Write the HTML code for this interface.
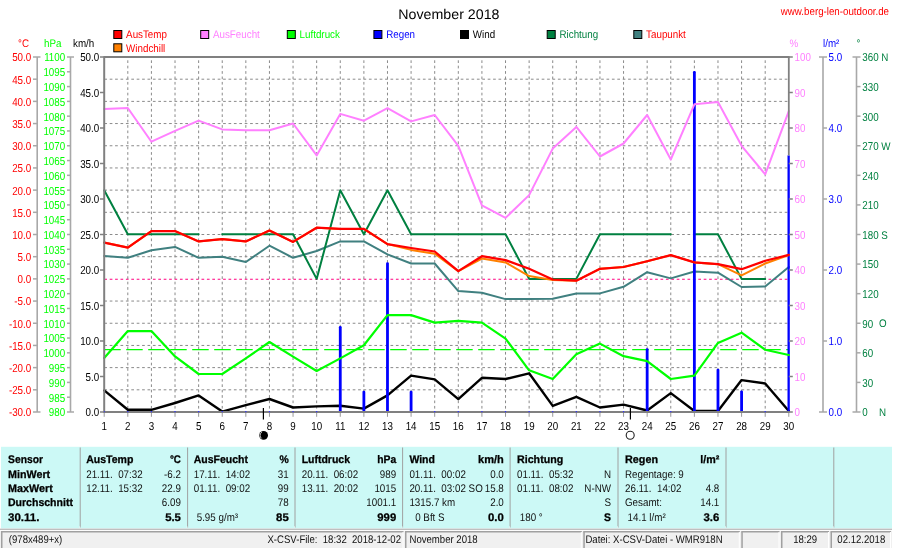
<!DOCTYPE html>
<html><head><meta charset="utf-8"><title>November 2018</title>
<style>
html,body{margin:0;padding:0;background:#fff;}
body{width:900px;height:548px;overflow:hidden;}
svg{display:block;}
text{font-family:'Liberation Sans',Arial,sans-serif;text-rendering:geometricPrecision;}
</style></head><body>
<svg width="900" height="548" viewBox="0 0 900 548">
<rect x="0" y="0" width="900" height="548" fill="#ffffff"/>
<text transform="translate(448.90,19.00) scale(0.25375,0.25)" font-size="56.00" fill="#000" text-anchor="middle">November 2018</text>
<text transform="translate(780.80,14.80) scale(0.22125,0.25)" font-size="44.00" fill="#ff0000">www.berg-len-outdoor.de</text>
<rect x="113.80" y="30.50" width="8" height="8" fill="#ff0000" stroke="#000" stroke-width="1"/>
<text transform="translate(126.10,38.40) scale(0.22250,0.25)" font-size="44.00" fill="#ff0000">AusTemp</text>
<rect x="113.80" y="43.80" width="8" height="8" fill="#ff8000" stroke="#000" stroke-width="1"/>
<text transform="translate(126.10,51.70) scale(0.22250,0.25)" font-size="44.00" fill="#ff0000">Windchill</text>
<rect x="200.70" y="30.50" width="8" height="8" fill="#ff80ff" stroke="#000" stroke-width="1"/>
<text transform="translate(213.00,38.40) scale(0.22250,0.25)" font-size="44.00" fill="#ff80ff">AusFeucht</text>
<rect x="287.30" y="30.50" width="8" height="8" fill="#00ff00" stroke="#000" stroke-width="1"/>
<text transform="translate(299.60,38.40) scale(0.22250,0.25)" font-size="44.00" fill="#00ff00">Luftdruck</text>
<rect x="373.90" y="30.50" width="8" height="8" fill="#0000ff" stroke="#000" stroke-width="1"/>
<text transform="translate(386.20,38.40) scale(0.22250,0.25)" font-size="44.00" fill="#0000ff">Regen</text>
<rect x="460.50" y="30.50" width="8" height="8" fill="#000" stroke="#000" stroke-width="1"/>
<text transform="translate(472.80,38.40) scale(0.22250,0.25)" font-size="44.00" fill="#000">Wind</text>
<rect x="547.20" y="30.50" width="8" height="8" fill="#008040" stroke="#000" stroke-width="1"/>
<text transform="translate(559.50,38.40) scale(0.22250,0.25)" font-size="44.00" fill="#008040">Richtung</text>
<rect x="633.80" y="30.50" width="8" height="8" fill="#408080" stroke="#000" stroke-width="1"/>
<text transform="translate(646.10,38.40) scale(0.22250,0.25)" font-size="44.00" fill="#ff0000">Taupunkt</text>
<text transform="translate(18.00,46.50) scale(0.22250,0.25)" font-size="44.00" fill="#ff0000">°C</text>
<text transform="translate(44.00,46.50) scale(0.22250,0.25)" font-size="44.00" fill="#00ff00">hPa</text>
<text transform="translate(73.00,46.50) scale(0.22250,0.25)" font-size="44.00" fill="#000">km/h</text>
<text transform="translate(789.50,46.50) scale(0.22250,0.25)" font-size="44.00" fill="#ff80ff">%</text>
<text transform="translate(823.00,46.50) scale(0.22250,0.25)" font-size="44.00" fill="#0000ff">l/m²</text>
<text transform="translate(856.50,46.50) scale(0.22250,0.25)" font-size="44.00" fill="#008040">°</text>
<line x1="104.30" y1="79.19" x2="788.80" y2="79.19" stroke="#8a8a8a" stroke-width="1" stroke-dasharray="2.7 2.7"/>
<line x1="104.30" y1="101.38" x2="788.80" y2="101.38" stroke="#8a8a8a" stroke-width="1" stroke-dasharray="2.7 2.7"/>
<line x1="104.30" y1="123.56" x2="788.80" y2="123.56" stroke="#8a8a8a" stroke-width="1" stroke-dasharray="2.7 2.7"/>
<line x1="104.30" y1="145.75" x2="788.80" y2="145.75" stroke="#8a8a8a" stroke-width="1" stroke-dasharray="2.7 2.7"/>
<line x1="104.30" y1="167.94" x2="788.80" y2="167.94" stroke="#8a8a8a" stroke-width="1" stroke-dasharray="2.7 2.7"/>
<line x1="104.30" y1="190.12" x2="788.80" y2="190.12" stroke="#8a8a8a" stroke-width="1" stroke-dasharray="2.7 2.7"/>
<line x1="104.30" y1="212.31" x2="788.80" y2="212.31" stroke="#8a8a8a" stroke-width="1" stroke-dasharray="2.7 2.7"/>
<line x1="104.30" y1="234.50" x2="788.80" y2="234.50" stroke="#8a8a8a" stroke-width="1" stroke-dasharray="2.7 2.7"/>
<line x1="104.30" y1="256.69" x2="788.80" y2="256.69" stroke="#8a8a8a" stroke-width="1" stroke-dasharray="2.7 2.7"/>
<line x1="104.30" y1="301.06" x2="788.80" y2="301.06" stroke="#8a8a8a" stroke-width="1" stroke-dasharray="2.7 2.7"/>
<line x1="104.30" y1="323.25" x2="788.80" y2="323.25" stroke="#8a8a8a" stroke-width="1" stroke-dasharray="2.7 2.7"/>
<line x1="104.30" y1="345.44" x2="788.80" y2="345.44" stroke="#8a8a8a" stroke-width="1" stroke-dasharray="2.7 2.7"/>
<line x1="104.30" y1="367.62" x2="788.80" y2="367.62" stroke="#8a8a8a" stroke-width="1" stroke-dasharray="2.7 2.7"/>
<line x1="104.30" y1="389.81" x2="788.80" y2="389.81" stroke="#8a8a8a" stroke-width="1" stroke-dasharray="2.7 2.7"/>
<line x1="127.81" y1="60.30" x2="127.81" y2="412.00" stroke="#8a8a8a" stroke-width="1" stroke-dasharray="2.7 2.7"/>
<line x1="151.41" y1="60.30" x2="151.41" y2="412.00" stroke="#8a8a8a" stroke-width="1" stroke-dasharray="2.7 2.7"/>
<line x1="175.02" y1="60.30" x2="175.02" y2="412.00" stroke="#8a8a8a" stroke-width="1" stroke-dasharray="2.7 2.7"/>
<line x1="198.63" y1="60.30" x2="198.63" y2="412.00" stroke="#8a8a8a" stroke-width="1" stroke-dasharray="2.7 2.7"/>
<line x1="222.24" y1="60.30" x2="222.24" y2="412.00" stroke="#8a8a8a" stroke-width="1" stroke-dasharray="2.7 2.7"/>
<line x1="245.84" y1="60.30" x2="245.84" y2="412.00" stroke="#8a8a8a" stroke-width="1" stroke-dasharray="2.7 2.7"/>
<line x1="269.45" y1="60.30" x2="269.45" y2="412.00" stroke="#8a8a8a" stroke-width="1" stroke-dasharray="2.7 2.7"/>
<line x1="293.06" y1="60.30" x2="293.06" y2="412.00" stroke="#8a8a8a" stroke-width="1" stroke-dasharray="2.7 2.7"/>
<line x1="316.66" y1="60.30" x2="316.66" y2="412.00" stroke="#8a8a8a" stroke-width="1" stroke-dasharray="2.7 2.7"/>
<line x1="340.27" y1="60.30" x2="340.27" y2="412.00" stroke="#8a8a8a" stroke-width="1" stroke-dasharray="2.7 2.7"/>
<line x1="363.88" y1="60.30" x2="363.88" y2="412.00" stroke="#8a8a8a" stroke-width="1" stroke-dasharray="2.7 2.7"/>
<line x1="387.48" y1="60.30" x2="387.48" y2="412.00" stroke="#8a8a8a" stroke-width="1" stroke-dasharray="2.7 2.7"/>
<line x1="411.09" y1="60.30" x2="411.09" y2="412.00" stroke="#8a8a8a" stroke-width="1" stroke-dasharray="2.7 2.7"/>
<line x1="434.70" y1="60.30" x2="434.70" y2="412.00" stroke="#8a8a8a" stroke-width="1" stroke-dasharray="2.7 2.7"/>
<line x1="458.31" y1="60.30" x2="458.31" y2="412.00" stroke="#8a8a8a" stroke-width="1" stroke-dasharray="2.7 2.7"/>
<line x1="481.91" y1="60.30" x2="481.91" y2="412.00" stroke="#8a8a8a" stroke-width="1" stroke-dasharray="2.7 2.7"/>
<line x1="505.52" y1="60.30" x2="505.52" y2="412.00" stroke="#8a8a8a" stroke-width="1" stroke-dasharray="2.7 2.7"/>
<line x1="529.13" y1="60.30" x2="529.13" y2="412.00" stroke="#8a8a8a" stroke-width="1" stroke-dasharray="2.7 2.7"/>
<line x1="552.73" y1="60.30" x2="552.73" y2="412.00" stroke="#8a8a8a" stroke-width="1" stroke-dasharray="2.7 2.7"/>
<line x1="576.34" y1="60.30" x2="576.34" y2="412.00" stroke="#8a8a8a" stroke-width="1" stroke-dasharray="2.7 2.7"/>
<line x1="599.95" y1="60.30" x2="599.95" y2="412.00" stroke="#8a8a8a" stroke-width="1" stroke-dasharray="2.7 2.7"/>
<line x1="623.55" y1="60.30" x2="623.55" y2="412.00" stroke="#8a8a8a" stroke-width="1" stroke-dasharray="2.7 2.7"/>
<line x1="647.16" y1="60.30" x2="647.16" y2="412.00" stroke="#8a8a8a" stroke-width="1" stroke-dasharray="2.7 2.7"/>
<line x1="670.77" y1="60.30" x2="670.77" y2="412.00" stroke="#8a8a8a" stroke-width="1" stroke-dasharray="2.7 2.7"/>
<line x1="694.38" y1="60.30" x2="694.38" y2="412.00" stroke="#8a8a8a" stroke-width="1" stroke-dasharray="2.7 2.7"/>
<line x1="717.98" y1="60.30" x2="717.98" y2="412.00" stroke="#8a8a8a" stroke-width="1" stroke-dasharray="2.7 2.7"/>
<line x1="741.59" y1="60.30" x2="741.59" y2="412.00" stroke="#8a8a8a" stroke-width="1" stroke-dasharray="2.7 2.7"/>
<line x1="765.20" y1="60.30" x2="765.20" y2="412.00" stroke="#8a8a8a" stroke-width="1" stroke-dasharray="2.7 2.7"/>
<line x1="104.20" y1="412.00" x2="104.20" y2="416.80" stroke="#999" stroke-width="1"/>
<line x1="127.81" y1="412.00" x2="127.81" y2="416.80" stroke="#999" stroke-width="1"/>
<line x1="151.41" y1="412.00" x2="151.41" y2="416.80" stroke="#999" stroke-width="1"/>
<line x1="175.02" y1="412.00" x2="175.02" y2="416.80" stroke="#999" stroke-width="1"/>
<line x1="198.63" y1="412.00" x2="198.63" y2="416.80" stroke="#999" stroke-width="1"/>
<line x1="222.24" y1="412.00" x2="222.24" y2="416.80" stroke="#999" stroke-width="1"/>
<line x1="245.84" y1="412.00" x2="245.84" y2="416.80" stroke="#999" stroke-width="1"/>
<line x1="269.45" y1="412.00" x2="269.45" y2="416.80" stroke="#999" stroke-width="1"/>
<line x1="293.06" y1="412.00" x2="293.06" y2="416.80" stroke="#999" stroke-width="1"/>
<line x1="316.66" y1="412.00" x2="316.66" y2="416.80" stroke="#999" stroke-width="1"/>
<line x1="340.27" y1="412.00" x2="340.27" y2="416.80" stroke="#999" stroke-width="1"/>
<line x1="363.88" y1="412.00" x2="363.88" y2="416.80" stroke="#999" stroke-width="1"/>
<line x1="387.48" y1="412.00" x2="387.48" y2="416.80" stroke="#999" stroke-width="1"/>
<line x1="411.09" y1="412.00" x2="411.09" y2="416.80" stroke="#999" stroke-width="1"/>
<line x1="434.70" y1="412.00" x2="434.70" y2="416.80" stroke="#999" stroke-width="1"/>
<line x1="458.31" y1="412.00" x2="458.31" y2="416.80" stroke="#999" stroke-width="1"/>
<line x1="481.91" y1="412.00" x2="481.91" y2="416.80" stroke="#999" stroke-width="1"/>
<line x1="505.52" y1="412.00" x2="505.52" y2="416.80" stroke="#999" stroke-width="1"/>
<line x1="529.13" y1="412.00" x2="529.13" y2="416.80" stroke="#999" stroke-width="1"/>
<line x1="552.73" y1="412.00" x2="552.73" y2="416.80" stroke="#999" stroke-width="1"/>
<line x1="576.34" y1="412.00" x2="576.34" y2="416.80" stroke="#999" stroke-width="1"/>
<line x1="599.95" y1="412.00" x2="599.95" y2="416.80" stroke="#999" stroke-width="1"/>
<line x1="623.55" y1="412.00" x2="623.55" y2="416.80" stroke="#999" stroke-width="1"/>
<line x1="647.16" y1="412.00" x2="647.16" y2="416.80" stroke="#999" stroke-width="1"/>
<line x1="670.77" y1="412.00" x2="670.77" y2="416.80" stroke="#999" stroke-width="1"/>
<line x1="694.38" y1="412.00" x2="694.38" y2="416.80" stroke="#999" stroke-width="1"/>
<line x1="717.98" y1="412.00" x2="717.98" y2="416.80" stroke="#999" stroke-width="1"/>
<line x1="741.59" y1="412.00" x2="741.59" y2="416.80" stroke="#999" stroke-width="1"/>
<line x1="765.20" y1="412.00" x2="765.20" y2="416.80" stroke="#999" stroke-width="1"/>
<line x1="788.80" y1="412.00" x2="788.80" y2="416.80" stroke="#999" stroke-width="1"/>
<line x1="104.30" y1="279.18" x2="788.80" y2="279.18" stroke="#ff0080" stroke-width="1.1" stroke-dasharray="2.7 2.7"/>
<line x1="104.20" y1="349.58" x2="788.80" y2="349.58" stroke="#00ff00" stroke-width="1.2" stroke-dasharray="16.5 5.5"/>
<polyline points="104.20,256.00 127.81,257.80 151.41,250.30 175.02,246.90 198.63,257.80 222.24,256.70 245.84,262.00 269.45,245.70 293.06,257.80 316.66,251.00 340.27,241.40 363.88,241.40 387.48,254.40 411.09,263.50 434.70,263.50 458.31,291.10 481.91,292.70 505.52,299.10 529.13,299.10 552.73,298.70 576.34,293.40 599.95,293.40 623.55,286.80 647.16,272.20 670.77,278.40 694.38,271.50 717.98,272.70 741.59,287.00 765.20,286.40 788.80,267.00" fill="none" stroke="#408080" stroke-width="2" stroke-linejoin="round" stroke-linecap="round"/>
<polyline points="104.20,190.30 127.81,234.20 151.41,234.20 175.02,234.20 198.63,234.20" fill="none" stroke="#008040" stroke-width="2" stroke-linejoin="round" stroke-linecap="round"/>
<polyline points="222.24,234.20 245.84,234.20 269.45,234.20 293.06,234.20 316.66,278.90 340.27,190.30 363.88,234.20 387.48,190.30 411.09,234.20 434.70,234.20 458.31,234.20 481.91,234.20 505.52,234.20 529.13,278.90 552.73,278.90 576.34,278.90 599.95,234.20 623.55,234.20 647.16,234.20 670.77,234.20" fill="none" stroke="#008040" stroke-width="2" stroke-linejoin="round" stroke-linecap="round"/>
<polyline points="694.38,234.20 717.98,234.20 741.59,278.90 765.20,278.90" fill="none" stroke="#008040" stroke-width="2" stroke-linejoin="round" stroke-linecap="round"/>
<polyline points="104.20,390.40 127.81,409.80 151.41,409.80 175.02,403.00 198.63,395.40 222.24,411.60 245.84,405.20 269.45,399.00 293.06,407.50 316.66,406.40 340.27,405.70 363.88,408.60 387.48,395.40 411.09,375.60 434.70,379.40 458.31,399.10 481.91,377.80 505.52,379.00 529.13,373.30 552.73,405.90 576.34,396.80 599.95,407.50 623.55,404.60 647.16,410.50 670.77,393.10 694.38,411.00 717.98,411.00 741.59,380.10 765.20,383.50 788.80,411.00" fill="none" stroke="#000" stroke-width="2.4" stroke-linejoin="round" stroke-linecap="round"/>
<rect x="338.87" y="326.00" width="2.80" height="86.00" fill="#0000ff" rx="1.2"/>
<rect x="362.48" y="390.80" width="2.80" height="21.20" fill="#0000ff" rx="1.2"/>
<rect x="386.08" y="262.20" width="2.80" height="149.80" fill="#0000ff" rx="1.2"/>
<rect x="409.69" y="390.80" width="2.80" height="21.20" fill="#0000ff" rx="1.2"/>
<rect x="645.76" y="348.20" width="2.80" height="63.80" fill="#0000ff" rx="1.2"/>
<rect x="692.98" y="71.00" width="2.80" height="341.00" fill="#0000ff" rx="1.2"/>
<rect x="716.58" y="368.70" width="2.80" height="43.30" fill="#0000ff" rx="1.2"/>
<rect x="740.19" y="390.40" width="2.80" height="21.60" fill="#0000ff" rx="1.2"/>
<rect x="787.50" y="155.40" width="2.30" height="256.60" fill="#0000ff"/>
<polyline points="104.20,358.00 127.81,331.10 151.41,331.10 175.02,356.40 198.63,374.00 222.24,374.00 245.84,358.40 269.45,342.00 293.06,356.60 316.66,371.00 340.27,358.40 363.88,345.20 387.48,315.10 411.09,315.10 434.70,322.60 458.31,320.80 481.91,322.60 505.52,338.60 529.13,370.30 552.73,379.00 576.34,354.30 599.95,343.60 623.55,356.20 647.16,361.20 670.77,379.00 694.38,375.60 717.98,342.90 741.59,332.70 765.20,349.80 788.80,355.00" fill="none" stroke="#00ff00" stroke-width="2.2" stroke-linejoin="round" stroke-linecap="round"/>
<polyline points="104.20,108.90 127.81,108.00 151.41,141.70 175.02,130.80 198.63,120.60 222.24,129.40 245.84,130.20 269.45,130.20 293.06,123.50 316.66,155.40 340.27,113.90 363.88,120.70 387.48,108.20 411.09,121.40 434.70,115.00 458.31,145.80 481.91,205.40 505.52,217.90 529.13,195.10 552.73,148.60 576.34,126.90 599.95,156.50 623.55,143.50 647.16,115.00 670.77,159.50 694.38,104.30 717.98,102.00 741.59,145.80 765.20,174.30 788.80,111.10" fill="none" stroke="#ff80ff" stroke-width="2" stroke-linejoin="round" stroke-linecap="round"/>
<polyline points="104.20,242.60 127.81,247.60 151.41,231.10 175.02,231.10 198.63,241.40 222.24,239.10 245.84,241.40 269.45,230.50 293.06,241.90 316.66,227.70 340.27,228.90 363.88,228.90 387.48,244.10 411.09,249.90 434.70,253.70 458.31,271.10 481.91,258.50 505.52,262.40 529.13,276.10 552.73,280.00 576.34,280.70 599.95,268.80 623.55,267.00 647.16,261.30 670.77,255.10 694.38,262.40 717.98,264.20 741.59,275.40 765.20,263.50 788.80,255.00" fill="none" stroke="#ff8000" stroke-width="2" stroke-linejoin="round" stroke-linecap="round"/>
<polyline points="104.20,242.60 127.81,247.60 151.41,231.10 175.02,231.10 198.63,241.40 222.24,239.10 245.84,241.40 269.45,230.50 293.06,241.90 316.66,227.70 340.27,228.90 363.88,228.90 387.48,244.10 411.09,248.00 434.70,251.50 458.31,271.10 481.91,256.20 505.52,260.10 529.13,268.80 552.73,279.50 576.34,280.70 599.95,268.80 623.55,267.00 647.16,261.30 670.77,255.10 694.38,262.40 717.98,264.20 741.59,269.20 765.20,260.80 788.80,254.90" fill="none" stroke="#ff0000" stroke-width="2.2" stroke-linejoin="round" stroke-linecap="round"/>
<line x1="104.00" y1="57.00" x2="789.60" y2="57.00" stroke="#808080" stroke-width="2"/>
<line x1="104.20" y1="56.20" x2="104.20" y2="413.00" stroke="#808080" stroke-width="2"/>
<line x1="104.20" y1="412.00" x2="789.60" y2="412.00" stroke="#808080" stroke-width="2"/>
<line x1="788.80" y1="57.00" x2="788.80" y2="155.40" stroke="#808080" stroke-width="1.8"/>
<rect x="103.60" y="411.00" width="1.20" height="1.20" fill="#3030ff"/>
<rect x="127.21" y="411.00" width="1.20" height="1.20" fill="#3030ff"/>
<rect x="150.81" y="411.00" width="1.20" height="1.20" fill="#3030ff"/>
<rect x="174.42" y="411.00" width="1.20" height="1.20" fill="#3030ff"/>
<rect x="198.03" y="411.00" width="1.20" height="1.20" fill="#3030ff"/>
<rect x="221.64" y="411.00" width="1.20" height="1.20" fill="#3030ff"/>
<rect x="245.24" y="411.00" width="1.20" height="1.20" fill="#3030ff"/>
<rect x="268.85" y="411.00" width="1.20" height="1.20" fill="#3030ff"/>
<rect x="292.46" y="411.00" width="1.20" height="1.20" fill="#3030ff"/>
<rect x="316.06" y="411.00" width="1.20" height="1.20" fill="#3030ff"/>
<rect x="434.10" y="411.00" width="1.20" height="1.20" fill="#3030ff"/>
<rect x="457.70" y="411.00" width="1.20" height="1.20" fill="#3030ff"/>
<rect x="481.31" y="411.00" width="1.20" height="1.20" fill="#3030ff"/>
<rect x="504.92" y="411.00" width="1.20" height="1.20" fill="#3030ff"/>
<rect x="528.53" y="411.00" width="1.20" height="1.20" fill="#3030ff"/>
<rect x="552.13" y="411.00" width="1.20" height="1.20" fill="#3030ff"/>
<rect x="575.74" y="411.00" width="1.20" height="1.20" fill="#3030ff"/>
<rect x="599.35" y="411.00" width="1.20" height="1.20" fill="#3030ff"/>
<rect x="622.95" y="411.00" width="1.20" height="1.20" fill="#3030ff"/>
<rect x="670.17" y="411.00" width="1.20" height="1.20" fill="#3030ff"/>
<rect x="764.60" y="411.00" width="1.20" height="1.20" fill="#3030ff"/>
<line x1="37.20" y1="57.00" x2="37.20" y2="412.00" stroke="#a8a8a8" stroke-width="1.6"/>
<line x1="33.00" y1="57.00" x2="40.50" y2="57.00" stroke="#a8a8a8" stroke-width="1.5"/>
<text transform="translate(31.20,61.40) scale(0.21100,0.25)" font-size="46.40" fill="#ff0000" text-anchor="end">50.0</text>
<line x1="33.00" y1="79.19" x2="37.20" y2="79.19" stroke="#a8a8a8" stroke-width="1.5"/>
<text transform="translate(31.20,83.59) scale(0.21100,0.25)" font-size="46.40" fill="#ff0000" text-anchor="end">45.0</text>
<line x1="33.00" y1="101.38" x2="37.20" y2="101.38" stroke="#a8a8a8" stroke-width="1.5"/>
<text transform="translate(31.20,105.78) scale(0.21100,0.25)" font-size="46.40" fill="#ff0000" text-anchor="end">40.0</text>
<line x1="33.00" y1="123.56" x2="37.20" y2="123.56" stroke="#a8a8a8" stroke-width="1.5"/>
<text transform="translate(31.20,127.96) scale(0.21100,0.25)" font-size="46.40" fill="#ff0000" text-anchor="end">35.0</text>
<line x1="33.00" y1="145.75" x2="37.20" y2="145.75" stroke="#a8a8a8" stroke-width="1.5"/>
<text transform="translate(31.20,150.15) scale(0.21100,0.25)" font-size="46.40" fill="#ff0000" text-anchor="end">30.0</text>
<line x1="33.00" y1="167.94" x2="37.20" y2="167.94" stroke="#a8a8a8" stroke-width="1.5"/>
<text transform="translate(31.20,172.34) scale(0.21100,0.25)" font-size="46.40" fill="#ff0000" text-anchor="end">25.0</text>
<line x1="33.00" y1="190.12" x2="37.20" y2="190.12" stroke="#a8a8a8" stroke-width="1.5"/>
<text transform="translate(31.20,194.53) scale(0.21100,0.25)" font-size="46.40" fill="#ff0000" text-anchor="end">20.0</text>
<line x1="33.00" y1="212.31" x2="37.20" y2="212.31" stroke="#a8a8a8" stroke-width="1.5"/>
<text transform="translate(31.20,216.71) scale(0.21100,0.25)" font-size="46.40" fill="#ff0000" text-anchor="end">15.0</text>
<line x1="33.00" y1="234.50" x2="37.20" y2="234.50" stroke="#a8a8a8" stroke-width="1.5"/>
<text transform="translate(31.20,238.90) scale(0.21100,0.25)" font-size="46.40" fill="#ff0000" text-anchor="end">10.0</text>
<line x1="33.00" y1="256.69" x2="37.20" y2="256.69" stroke="#a8a8a8" stroke-width="1.5"/>
<text transform="translate(31.20,261.09) scale(0.21100,0.25)" font-size="46.40" fill="#ff0000" text-anchor="end">5.0</text>
<line x1="33.00" y1="278.88" x2="37.20" y2="278.88" stroke="#a8a8a8" stroke-width="1.5"/>
<text transform="translate(31.20,283.27) scale(0.21100,0.25)" font-size="46.40" fill="#ff0000" text-anchor="end">0.0</text>
<line x1="33.00" y1="301.06" x2="37.20" y2="301.06" stroke="#a8a8a8" stroke-width="1.5"/>
<text transform="translate(31.20,305.46) scale(0.21100,0.25)" font-size="46.40" fill="#ff0000" text-anchor="end">-5.0</text>
<line x1="33.00" y1="323.25" x2="37.20" y2="323.25" stroke="#a8a8a8" stroke-width="1.5"/>
<text transform="translate(31.20,327.65) scale(0.21100,0.25)" font-size="46.40" fill="#ff0000" text-anchor="end">-10.0</text>
<line x1="33.00" y1="345.44" x2="37.20" y2="345.44" stroke="#a8a8a8" stroke-width="1.5"/>
<text transform="translate(31.20,349.84) scale(0.21100,0.25)" font-size="46.40" fill="#ff0000" text-anchor="end">-15.0</text>
<line x1="33.00" y1="367.62" x2="37.20" y2="367.62" stroke="#a8a8a8" stroke-width="1.5"/>
<text transform="translate(31.20,372.02) scale(0.21100,0.25)" font-size="46.40" fill="#ff0000" text-anchor="end">-20.0</text>
<line x1="33.00" y1="389.81" x2="37.20" y2="389.81" stroke="#a8a8a8" stroke-width="1.5"/>
<text transform="translate(31.20,394.21) scale(0.21100,0.25)" font-size="46.40" fill="#ff0000" text-anchor="end">-25.0</text>
<line x1="33.00" y1="412.00" x2="40.50" y2="412.00" stroke="#a8a8a8" stroke-width="1.5"/>
<text transform="translate(31.20,416.40) scale(0.21100,0.25)" font-size="46.40" fill="#ff0000" text-anchor="end">-30.0</text>
<line x1="70.50" y1="57.00" x2="70.50" y2="412.00" stroke="#a8a8a8" stroke-width="1.6"/>
<line x1="67.00" y1="57.00" x2="74.00" y2="57.00" stroke="#a8a8a8" stroke-width="1.5"/>
<text transform="translate(65.20,61.40) scale(0.21100,0.25)" font-size="46.40" fill="#00ff00" text-anchor="end">1100</text>
<line x1="67.00" y1="71.79" x2="70.50" y2="71.79" stroke="#a8a8a8" stroke-width="1.5"/>
<text transform="translate(65.20,76.19) scale(0.21100,0.25)" font-size="46.40" fill="#00ff00" text-anchor="end">1095</text>
<line x1="67.00" y1="86.58" x2="70.50" y2="86.58" stroke="#a8a8a8" stroke-width="1.5"/>
<text transform="translate(65.20,90.98) scale(0.21100,0.25)" font-size="46.40" fill="#00ff00" text-anchor="end">1090</text>
<line x1="67.00" y1="101.38" x2="70.50" y2="101.38" stroke="#a8a8a8" stroke-width="1.5"/>
<text transform="translate(65.20,105.78) scale(0.21100,0.25)" font-size="46.40" fill="#00ff00" text-anchor="end">1085</text>
<line x1="67.00" y1="116.17" x2="70.50" y2="116.17" stroke="#a8a8a8" stroke-width="1.5"/>
<text transform="translate(65.20,120.57) scale(0.21100,0.25)" font-size="46.40" fill="#00ff00" text-anchor="end">1080</text>
<line x1="67.00" y1="130.96" x2="70.50" y2="130.96" stroke="#a8a8a8" stroke-width="1.5"/>
<text transform="translate(65.20,135.36) scale(0.21100,0.25)" font-size="46.40" fill="#00ff00" text-anchor="end">1075</text>
<line x1="67.00" y1="145.75" x2="70.50" y2="145.75" stroke="#a8a8a8" stroke-width="1.5"/>
<text transform="translate(65.20,150.15) scale(0.21100,0.25)" font-size="46.40" fill="#00ff00" text-anchor="end">1070</text>
<line x1="67.00" y1="160.54" x2="70.50" y2="160.54" stroke="#a8a8a8" stroke-width="1.5"/>
<text transform="translate(65.20,164.94) scale(0.21100,0.25)" font-size="46.40" fill="#00ff00" text-anchor="end">1065</text>
<line x1="67.00" y1="175.33" x2="70.50" y2="175.33" stroke="#a8a8a8" stroke-width="1.5"/>
<text transform="translate(65.20,179.73) scale(0.21100,0.25)" font-size="46.40" fill="#00ff00" text-anchor="end">1060</text>
<line x1="67.00" y1="190.12" x2="70.50" y2="190.12" stroke="#a8a8a8" stroke-width="1.5"/>
<text transform="translate(65.20,194.53) scale(0.21100,0.25)" font-size="46.40" fill="#00ff00" text-anchor="end">1055</text>
<line x1="67.00" y1="204.92" x2="70.50" y2="204.92" stroke="#a8a8a8" stroke-width="1.5"/>
<text transform="translate(65.20,209.32) scale(0.21100,0.25)" font-size="46.40" fill="#00ff00" text-anchor="end">1050</text>
<line x1="67.00" y1="219.71" x2="70.50" y2="219.71" stroke="#a8a8a8" stroke-width="1.5"/>
<text transform="translate(65.20,224.11) scale(0.21100,0.25)" font-size="46.40" fill="#00ff00" text-anchor="end">1045</text>
<line x1="67.00" y1="234.50" x2="70.50" y2="234.50" stroke="#a8a8a8" stroke-width="1.5"/>
<text transform="translate(65.20,238.90) scale(0.21100,0.25)" font-size="46.40" fill="#00ff00" text-anchor="end">1040</text>
<line x1="67.00" y1="249.29" x2="70.50" y2="249.29" stroke="#a8a8a8" stroke-width="1.5"/>
<text transform="translate(65.20,253.69) scale(0.21100,0.25)" font-size="46.40" fill="#00ff00" text-anchor="end">1035</text>
<line x1="67.00" y1="264.08" x2="70.50" y2="264.08" stroke="#a8a8a8" stroke-width="1.5"/>
<text transform="translate(65.20,268.48) scale(0.21100,0.25)" font-size="46.40" fill="#00ff00" text-anchor="end">1030</text>
<line x1="67.00" y1="278.88" x2="70.50" y2="278.88" stroke="#a8a8a8" stroke-width="1.5"/>
<text transform="translate(65.20,283.27) scale(0.21100,0.25)" font-size="46.40" fill="#00ff00" text-anchor="end">1025</text>
<line x1="67.00" y1="293.67" x2="70.50" y2="293.67" stroke="#a8a8a8" stroke-width="1.5"/>
<text transform="translate(65.20,298.07) scale(0.21100,0.25)" font-size="46.40" fill="#00ff00" text-anchor="end">1020</text>
<line x1="67.00" y1="308.46" x2="70.50" y2="308.46" stroke="#a8a8a8" stroke-width="1.5"/>
<text transform="translate(65.20,312.86) scale(0.21100,0.25)" font-size="46.40" fill="#00ff00" text-anchor="end">1015</text>
<line x1="67.00" y1="323.25" x2="70.50" y2="323.25" stroke="#a8a8a8" stroke-width="1.5"/>
<text transform="translate(65.20,327.65) scale(0.21100,0.25)" font-size="46.40" fill="#00ff00" text-anchor="end">1010</text>
<line x1="67.00" y1="338.04" x2="70.50" y2="338.04" stroke="#a8a8a8" stroke-width="1.5"/>
<text transform="translate(65.20,342.44) scale(0.21100,0.25)" font-size="46.40" fill="#00ff00" text-anchor="end">1005</text>
<line x1="67.00" y1="352.83" x2="70.50" y2="352.83" stroke="#a8a8a8" stroke-width="1.5"/>
<text transform="translate(65.20,357.23) scale(0.21100,0.25)" font-size="46.40" fill="#00ff00" text-anchor="end">1000</text>
<line x1="67.00" y1="367.62" x2="70.50" y2="367.62" stroke="#a8a8a8" stroke-width="1.5"/>
<text transform="translate(65.20,372.02) scale(0.21100,0.25)" font-size="46.40" fill="#00ff00" text-anchor="end">995</text>
<line x1="67.00" y1="382.42" x2="70.50" y2="382.42" stroke="#a8a8a8" stroke-width="1.5"/>
<text transform="translate(65.20,386.82) scale(0.21100,0.25)" font-size="46.40" fill="#00ff00" text-anchor="end">990</text>
<line x1="67.00" y1="397.21" x2="70.50" y2="397.21" stroke="#a8a8a8" stroke-width="1.5"/>
<text transform="translate(65.20,401.61) scale(0.21100,0.25)" font-size="46.40" fill="#00ff00" text-anchor="end">985</text>
<line x1="67.00" y1="412.00" x2="74.00" y2="412.00" stroke="#a8a8a8" stroke-width="1.5"/>
<text transform="translate(65.20,416.40) scale(0.21100,0.25)" font-size="46.40" fill="#00ff00" text-anchor="end">980</text>
<line x1="100.00" y1="57.00" x2="104.20" y2="57.00" stroke="#808080" stroke-width="1.5"/>
<text transform="translate(99.20,61.40) scale(0.21100,0.25)" font-size="46.40" fill="#000" text-anchor="end">50.0</text>
<line x1="100.00" y1="92.50" x2="104.20" y2="92.50" stroke="#808080" stroke-width="1.5"/>
<text transform="translate(99.20,96.90) scale(0.21100,0.25)" font-size="46.40" fill="#000" text-anchor="end">45.0</text>
<line x1="100.00" y1="128.00" x2="104.20" y2="128.00" stroke="#808080" stroke-width="1.5"/>
<text transform="translate(99.20,132.40) scale(0.21100,0.25)" font-size="46.40" fill="#000" text-anchor="end">40.0</text>
<line x1="100.00" y1="163.50" x2="104.20" y2="163.50" stroke="#808080" stroke-width="1.5"/>
<text transform="translate(99.20,167.90) scale(0.21100,0.25)" font-size="46.40" fill="#000" text-anchor="end">35.0</text>
<line x1="100.00" y1="199.00" x2="104.20" y2="199.00" stroke="#808080" stroke-width="1.5"/>
<text transform="translate(99.20,203.40) scale(0.21100,0.25)" font-size="46.40" fill="#000" text-anchor="end">30.0</text>
<line x1="100.00" y1="234.50" x2="104.20" y2="234.50" stroke="#808080" stroke-width="1.5"/>
<text transform="translate(99.20,238.90) scale(0.21100,0.25)" font-size="46.40" fill="#000" text-anchor="end">25.0</text>
<line x1="100.00" y1="270.00" x2="104.20" y2="270.00" stroke="#808080" stroke-width="1.5"/>
<text transform="translate(99.20,274.40) scale(0.21100,0.25)" font-size="46.40" fill="#000" text-anchor="end">20.0</text>
<line x1="100.00" y1="305.50" x2="104.20" y2="305.50" stroke="#808080" stroke-width="1.5"/>
<text transform="translate(99.20,309.90) scale(0.21100,0.25)" font-size="46.40" fill="#000" text-anchor="end">15.0</text>
<line x1="100.00" y1="341.00" x2="104.20" y2="341.00" stroke="#808080" stroke-width="1.5"/>
<text transform="translate(99.20,345.40) scale(0.21100,0.25)" font-size="46.40" fill="#000" text-anchor="end">10.0</text>
<line x1="100.00" y1="376.50" x2="104.20" y2="376.50" stroke="#808080" stroke-width="1.5"/>
<text transform="translate(99.20,380.90) scale(0.21100,0.25)" font-size="46.40" fill="#000" text-anchor="end">5.0</text>
<line x1="100.00" y1="412.00" x2="104.20" y2="412.00" stroke="#808080" stroke-width="1.5"/>
<text transform="translate(99.20,416.40) scale(0.21100,0.25)" font-size="46.40" fill="#000" text-anchor="end">0.0</text>
<line x1="788.80" y1="57.00" x2="792.80" y2="57.00" stroke="#808080" stroke-width="1.5"/>
<text transform="translate(794.50,61.40) scale(0.21100,0.25)" font-size="46.40" fill="#ff80ff">100</text>
<line x1="788.80" y1="92.50" x2="792.80" y2="92.50" stroke="#808080" stroke-width="1.5"/>
<text transform="translate(794.50,96.90) scale(0.21100,0.25)" font-size="46.40" fill="#ff80ff">90</text>
<line x1="788.80" y1="128.00" x2="792.80" y2="128.00" stroke="#808080" stroke-width="1.5"/>
<text transform="translate(794.50,132.40) scale(0.21100,0.25)" font-size="46.40" fill="#ff80ff">80</text>
<line x1="788.80" y1="163.50" x2="792.80" y2="163.50" stroke="#808080" stroke-width="1.5"/>
<text transform="translate(794.50,167.90) scale(0.21100,0.25)" font-size="46.40" fill="#ff80ff">70</text>
<line x1="788.80" y1="199.00" x2="792.80" y2="199.00" stroke="#808080" stroke-width="1.5"/>
<text transform="translate(794.50,203.40) scale(0.21100,0.25)" font-size="46.40" fill="#ff80ff">60</text>
<line x1="788.80" y1="234.50" x2="792.80" y2="234.50" stroke="#808080" stroke-width="1.5"/>
<text transform="translate(794.50,238.90) scale(0.21100,0.25)" font-size="46.40" fill="#ff80ff">50</text>
<line x1="788.80" y1="270.00" x2="792.80" y2="270.00" stroke="#808080" stroke-width="1.5"/>
<text transform="translate(794.50,274.40) scale(0.21100,0.25)" font-size="46.40" fill="#ff80ff">40</text>
<line x1="788.80" y1="305.50" x2="792.80" y2="305.50" stroke="#808080" stroke-width="1.5"/>
<text transform="translate(794.50,309.90) scale(0.21100,0.25)" font-size="46.40" fill="#ff80ff">30</text>
<line x1="788.80" y1="341.00" x2="792.80" y2="341.00" stroke="#808080" stroke-width="1.5"/>
<text transform="translate(794.50,345.40) scale(0.21100,0.25)" font-size="46.40" fill="#ff80ff">20</text>
<line x1="788.80" y1="376.50" x2="792.80" y2="376.50" stroke="#808080" stroke-width="1.5"/>
<text transform="translate(794.50,380.90) scale(0.21100,0.25)" font-size="46.40" fill="#ff80ff">10</text>
<line x1="788.80" y1="412.00" x2="792.80" y2="412.00" stroke="#808080" stroke-width="1.5"/>
<text transform="translate(794.50,416.40) scale(0.21100,0.25)" font-size="46.40" fill="#ff80ff">0</text>
<line x1="823.00" y1="57.00" x2="823.00" y2="412.00" stroke="#a8a8a8" stroke-width="1.6"/>
<line x1="819.00" y1="57.00" x2="827.00" y2="57.00" stroke="#a8a8a8" stroke-width="1.5"/>
<text transform="translate(828.50,61.40) scale(0.21100,0.25)" font-size="46.40" fill="#0000ff">5.0</text>
<line x1="823.00" y1="128.00" x2="827.00" y2="128.00" stroke="#a8a8a8" stroke-width="1.5"/>
<text transform="translate(828.50,132.40) scale(0.21100,0.25)" font-size="46.40" fill="#0000ff">4.0</text>
<line x1="823.00" y1="199.00" x2="827.00" y2="199.00" stroke="#a8a8a8" stroke-width="1.5"/>
<text transform="translate(828.50,203.40) scale(0.21100,0.25)" font-size="46.40" fill="#0000ff">3.0</text>
<line x1="823.00" y1="270.00" x2="827.00" y2="270.00" stroke="#a8a8a8" stroke-width="1.5"/>
<text transform="translate(828.50,274.40) scale(0.21100,0.25)" font-size="46.40" fill="#0000ff">2.0</text>
<line x1="823.00" y1="341.00" x2="827.00" y2="341.00" stroke="#a8a8a8" stroke-width="1.5"/>
<text transform="translate(828.50,345.40) scale(0.21100,0.25)" font-size="46.40" fill="#0000ff">1.0</text>
<line x1="819.00" y1="412.00" x2="827.00" y2="412.00" stroke="#a8a8a8" stroke-width="1.5"/>
<text transform="translate(828.50,416.40) scale(0.21100,0.25)" font-size="46.40" fill="#0000ff">0.0</text>
<line x1="856.50" y1="57.00" x2="856.50" y2="412.00" stroke="#a8a8a8" stroke-width="1.6"/>
<line x1="852.50" y1="57.00" x2="860.50" y2="57.00" stroke="#a8a8a8" stroke-width="1.5"/>
<text transform="translate(862.30,61.40) scale(0.21100,0.25)" font-size="46.40" fill="#008040">360</text>
<text transform="translate(881.20,61.00) scale(0.22250,0.25)" font-size="44.00" fill="#008040">N</text>
<line x1="856.50" y1="86.58" x2="860.50" y2="86.58" stroke="#a8a8a8" stroke-width="1.5"/>
<text transform="translate(862.30,90.98) scale(0.21100,0.25)" font-size="46.40" fill="#008040">330</text>
<line x1="856.50" y1="116.17" x2="860.50" y2="116.17" stroke="#a8a8a8" stroke-width="1.5"/>
<text transform="translate(862.30,120.57) scale(0.21100,0.25)" font-size="46.40" fill="#008040">300</text>
<line x1="856.50" y1="145.75" x2="860.50" y2="145.75" stroke="#a8a8a8" stroke-width="1.5"/>
<text transform="translate(862.30,150.15) scale(0.21100,0.25)" font-size="46.40" fill="#008040">270</text>
<text transform="translate(881.20,149.75) scale(0.22250,0.25)" font-size="44.00" fill="#008040">W</text>
<line x1="856.50" y1="175.33" x2="860.50" y2="175.33" stroke="#a8a8a8" stroke-width="1.5"/>
<text transform="translate(862.30,179.73) scale(0.21100,0.25)" font-size="46.40" fill="#008040">240</text>
<line x1="856.50" y1="204.92" x2="860.50" y2="204.92" stroke="#a8a8a8" stroke-width="1.5"/>
<text transform="translate(862.30,209.32) scale(0.21100,0.25)" font-size="46.40" fill="#008040">210</text>
<line x1="856.50" y1="234.50" x2="860.50" y2="234.50" stroke="#a8a8a8" stroke-width="1.5"/>
<text transform="translate(862.30,238.90) scale(0.21100,0.25)" font-size="46.40" fill="#008040">180</text>
<text transform="translate(881.20,238.50) scale(0.22250,0.25)" font-size="44.00" fill="#008040">S</text>
<line x1="856.50" y1="264.08" x2="860.50" y2="264.08" stroke="#a8a8a8" stroke-width="1.5"/>
<text transform="translate(862.30,268.48) scale(0.21100,0.25)" font-size="46.40" fill="#008040">150</text>
<line x1="856.50" y1="293.67" x2="860.50" y2="293.67" stroke="#a8a8a8" stroke-width="1.5"/>
<text transform="translate(862.30,298.07) scale(0.21100,0.25)" font-size="46.40" fill="#008040">120</text>
<line x1="856.50" y1="323.25" x2="860.50" y2="323.25" stroke="#a8a8a8" stroke-width="1.5"/>
<text transform="translate(862.30,327.65) scale(0.21100,0.25)" font-size="46.40" fill="#008040">90</text>
<text transform="translate(879.00,327.25) scale(0.22250,0.25)" font-size="44.00" fill="#008040">O</text>
<line x1="856.50" y1="352.83" x2="860.50" y2="352.83" stroke="#a8a8a8" stroke-width="1.5"/>
<text transform="translate(862.30,357.23) scale(0.21100,0.25)" font-size="46.40" fill="#008040">60</text>
<line x1="856.50" y1="382.42" x2="860.50" y2="382.42" stroke="#a8a8a8" stroke-width="1.5"/>
<text transform="translate(862.30,386.82) scale(0.21100,0.25)" font-size="46.40" fill="#008040">30</text>
<line x1="852.50" y1="412.00" x2="860.50" y2="412.00" stroke="#a8a8a8" stroke-width="1.5"/>
<text transform="translate(862.30,416.40) scale(0.21100,0.25)" font-size="46.40" fill="#008040">0</text>
<text transform="translate(879.00,416.00) scale(0.22250,0.25)" font-size="44.00" fill="#008040">N</text>
<text transform="translate(104.20,429.70) scale(0.21100,0.25)" font-size="46.40" fill="#000" text-anchor="middle">1</text>
<text transform="translate(127.81,429.70) scale(0.21100,0.25)" font-size="46.40" fill="#000" text-anchor="middle">2</text>
<text transform="translate(151.41,429.70) scale(0.21100,0.25)" font-size="46.40" fill="#000" text-anchor="middle">3</text>
<text transform="translate(175.02,429.70) scale(0.21100,0.25)" font-size="46.40" fill="#000" text-anchor="middle">4</text>
<text transform="translate(198.63,429.70) scale(0.21100,0.25)" font-size="46.40" fill="#000" text-anchor="middle">5</text>
<text transform="translate(222.24,429.70) scale(0.21100,0.25)" font-size="46.40" fill="#000" text-anchor="middle">6</text>
<text transform="translate(245.84,429.70) scale(0.21100,0.25)" font-size="46.40" fill="#000" text-anchor="middle">7</text>
<text transform="translate(269.45,429.70) scale(0.21100,0.25)" font-size="46.40" fill="#000" text-anchor="middle">8</text>
<text transform="translate(293.06,429.70) scale(0.21100,0.25)" font-size="46.40" fill="#000" text-anchor="middle">9</text>
<text transform="translate(316.66,429.70) scale(0.21100,0.25)" font-size="46.40" fill="#000" text-anchor="middle">10</text>
<text transform="translate(340.27,429.70) scale(0.21100,0.25)" font-size="46.40" fill="#000" text-anchor="middle">11</text>
<text transform="translate(363.88,429.70) scale(0.21100,0.25)" font-size="46.40" fill="#000" text-anchor="middle">12</text>
<text transform="translate(387.48,429.70) scale(0.21100,0.25)" font-size="46.40" fill="#000" text-anchor="middle">13</text>
<text transform="translate(411.09,429.70) scale(0.21100,0.25)" font-size="46.40" fill="#000" text-anchor="middle">14</text>
<text transform="translate(434.70,429.70) scale(0.21100,0.25)" font-size="46.40" fill="#000" text-anchor="middle">15</text>
<text transform="translate(458.31,429.70) scale(0.21100,0.25)" font-size="46.40" fill="#000" text-anchor="middle">16</text>
<text transform="translate(481.91,429.70) scale(0.21100,0.25)" font-size="46.40" fill="#000" text-anchor="middle">17</text>
<text transform="translate(505.52,429.70) scale(0.21100,0.25)" font-size="46.40" fill="#000" text-anchor="middle">18</text>
<text transform="translate(529.13,429.70) scale(0.21100,0.25)" font-size="46.40" fill="#000" text-anchor="middle">19</text>
<text transform="translate(552.73,429.70) scale(0.21100,0.25)" font-size="46.40" fill="#000" text-anchor="middle">20</text>
<text transform="translate(576.34,429.70) scale(0.21100,0.25)" font-size="46.40" fill="#000" text-anchor="middle">21</text>
<text transform="translate(599.95,429.70) scale(0.21100,0.25)" font-size="46.40" fill="#000" text-anchor="middle">22</text>
<text transform="translate(623.55,429.70) scale(0.21100,0.25)" font-size="46.40" fill="#000" text-anchor="middle">23</text>
<text transform="translate(647.16,429.70) scale(0.21100,0.25)" font-size="46.40" fill="#000" text-anchor="middle">24</text>
<text transform="translate(670.77,429.70) scale(0.21100,0.25)" font-size="46.40" fill="#000" text-anchor="middle">25</text>
<text transform="translate(694.38,429.70) scale(0.21100,0.25)" font-size="46.40" fill="#000" text-anchor="middle">26</text>
<text transform="translate(717.98,429.70) scale(0.21100,0.25)" font-size="46.40" fill="#000" text-anchor="middle">27</text>
<text transform="translate(741.59,429.70) scale(0.21100,0.25)" font-size="46.40" fill="#000" text-anchor="middle">28</text>
<text transform="translate(765.20,429.70) scale(0.21100,0.25)" font-size="46.40" fill="#000" text-anchor="middle">29</text>
<text transform="translate(788.80,429.70) scale(0.21100,0.25)" font-size="46.40" fill="#000" text-anchor="middle">30</text>
<line x1="263.40" y1="408.00" x2="263.40" y2="419.50" stroke="#000" stroke-width="1.2"/>
<line x1="630.40" y1="408.00" x2="630.40" y2="419.50" stroke="#000" stroke-width="1.2"/>
<circle cx="263.6" cy="435.3" r="4.4" fill="#000"/>
<path d="M261.9 432.2 A3.4 3.6 0 0 0 261.6 438.4" fill="none" stroke="#fff" stroke-width="0.8"/>
<circle cx="630.2" cy="435.3" r="4" fill="none" stroke="#222" stroke-width="1.1"/>
<rect x="1.00" y="446.80" width="891.00" height="81.80" fill="#ccf9f6"/>
<line x1="80.20" y1="447.50" x2="80.20" y2="527.50" stroke="#a0a0a0" stroke-width="1"/>
<line x1="79.20" y1="527.00" x2="80.20" y2="527.00" stroke="#ffffff" stroke-width="1"/>
<line x1="187.60" y1="447.50" x2="187.60" y2="527.50" stroke="#a0a0a0" stroke-width="1"/>
<line x1="186.60" y1="527.00" x2="187.60" y2="527.00" stroke="#ffffff" stroke-width="1"/>
<line x1="295.00" y1="447.50" x2="295.00" y2="527.50" stroke="#a0a0a0" stroke-width="1"/>
<line x1="294.00" y1="527.00" x2="295.00" y2="527.00" stroke="#ffffff" stroke-width="1"/>
<line x1="402.60" y1="447.50" x2="402.60" y2="527.50" stroke="#a0a0a0" stroke-width="1"/>
<line x1="401.60" y1="527.00" x2="402.60" y2="527.00" stroke="#ffffff" stroke-width="1"/>
<line x1="510.10" y1="447.50" x2="510.10" y2="527.50" stroke="#a0a0a0" stroke-width="1"/>
<line x1="509.10" y1="527.00" x2="510.10" y2="527.00" stroke="#ffffff" stroke-width="1"/>
<line x1="618.00" y1="447.50" x2="618.00" y2="527.50" stroke="#a0a0a0" stroke-width="1"/>
<line x1="617.00" y1="527.00" x2="618.00" y2="527.00" stroke="#ffffff" stroke-width="1"/>
<line x1="726.00" y1="447.50" x2="726.00" y2="527.50" stroke="#a0a0a0" stroke-width="1"/>
<line x1="725.00" y1="527.00" x2="726.00" y2="527.00" stroke="#ffffff" stroke-width="1"/>
<line x1="833.80" y1="447.50" x2="833.80" y2="527.50" stroke="#a0a0a0" stroke-width="1"/>
<line x1="832.80" y1="527.00" x2="833.80" y2="527.00" stroke="#ffffff" stroke-width="1"/>
<text transform="translate(8.00,463.00) scale(0.23464,0.25)" font-size="44.00" fill="#000" font-weight="bold" stroke="#000" stroke-width="1.1">Sensor</text>
<text transform="translate(8.00,477.50) scale(0.24431,0.25)" font-size="44.00" fill="#000" font-weight="bold" stroke="#000" stroke-width="1.1">MinWert</text>
<text transform="translate(8.00,492.00) scale(0.24539,0.25)" font-size="44.00" fill="#000" font-weight="bold" stroke="#000" stroke-width="1.1">MaxWert</text>
<text transform="translate(8.00,506.40) scale(0.23919,0.25)" font-size="44.00" fill="#000" font-weight="bold" stroke="#000" stroke-width="1.1">Durchschnitt</text>
<text transform="translate(8.00,520.80) scale(0.26188,0.25)" font-size="44.00" fill="#000" font-weight="bold" stroke="#000" stroke-width="1.1">30.11.</text>
<text transform="translate(86.20,463.00) scale(0.23884,0.25)" font-size="44.00" fill="#000" font-weight="bold" stroke="#000" stroke-width="1.1">AusTemp</text>
<text transform="translate(180.90,463.00) scale(0.22281,0.25)" font-size="44.00" fill="#000" text-anchor="end" font-weight="bold" stroke="#000" stroke-width="1.1">°C</text>
<text transform="translate(86.20,477.50) scale(0.22250,0.25)" font-size="44.00" fill="#111">21.11.&#160;&#160;07:32</text>
<text transform="translate(180.90,477.50) scale(0.22250,0.25)" font-size="44.00" fill="#111" text-anchor="end">-6.2</text>
<text transform="translate(86.20,492.00) scale(0.22250,0.25)" font-size="44.00" fill="#111">12.11.&#160;&#160;15:32</text>
<text transform="translate(180.90,492.00) scale(0.22250,0.25)" font-size="44.00" fill="#111" text-anchor="end">22.9</text>
<text transform="translate(180.90,506.40) scale(0.22250,0.25)" font-size="44.00" fill="#111" text-anchor="end">6.09</text>
<text transform="translate(180.90,520.80) scale(0.25750,0.25)" font-size="44.00" fill="#000" text-anchor="end" font-weight="bold" stroke="#000" stroke-width="1.1">5.5</text>
<text transform="translate(193.70,463.00) scale(0.23864,0.25)" font-size="44.00" fill="#000" font-weight="bold" stroke="#000" stroke-width="1.1">AusFeucht</text>
<text transform="translate(288.70,463.00) scale(0.23750,0.25)" font-size="44.00" fill="#000" text-anchor="end" font-weight="bold" stroke="#000" stroke-width="1.1">%</text>
<text transform="translate(193.70,477.50) scale(0.22250,0.25)" font-size="44.00" fill="#111">17.11.&#160;&#160;14:02</text>
<text transform="translate(288.70,477.50) scale(0.22250,0.25)" font-size="44.00" fill="#111" text-anchor="end">31</text>
<text transform="translate(193.70,492.00) scale(0.22250,0.25)" font-size="44.00" fill="#111">01.11.&#160;&#160;09:02</text>
<text transform="translate(288.70,492.00) scale(0.22250,0.25)" font-size="44.00" fill="#111" text-anchor="end">99</text>
<text transform="translate(288.70,506.40) scale(0.22250,0.25)" font-size="44.00" fill="#111" text-anchor="end">78</text>
<text transform="translate(196.70,520.80) scale(0.22250,0.25)" font-size="44.00" fill="#111">5.95 g/m³</text>
<text transform="translate(288.70,520.80) scale(0.25750,0.25)" font-size="44.00" fill="#000" text-anchor="end" font-weight="bold" stroke="#000" stroke-width="1.1">85</text>
<text transform="translate(301.70,463.00) scale(0.23785,0.25)" font-size="44.00" fill="#000" font-weight="bold" stroke="#000" stroke-width="1.1">Luftdruck</text>
<text transform="translate(396.20,463.00) scale(0.23546,0.25)" font-size="44.00" fill="#000" text-anchor="end" font-weight="bold" stroke="#000" stroke-width="1.1">hPa</text>
<text transform="translate(301.70,477.50) scale(0.22250,0.25)" font-size="44.00" fill="#111">20.11.&#160;&#160;06:02</text>
<text transform="translate(396.20,477.50) scale(0.22250,0.25)" font-size="44.00" fill="#111" text-anchor="end">989</text>
<text transform="translate(301.70,492.00) scale(0.22250,0.25)" font-size="44.00" fill="#111">13.11.&#160;&#160;20:02</text>
<text transform="translate(396.20,492.00) scale(0.22250,0.25)" font-size="44.00" fill="#111" text-anchor="end">1015</text>
<text transform="translate(396.20,506.40) scale(0.22250,0.25)" font-size="44.00" fill="#111" text-anchor="end">1001.1</text>
<text transform="translate(396.20,520.80) scale(0.25750,0.25)" font-size="44.00" fill="#000" text-anchor="end" font-weight="bold" stroke="#000" stroke-width="1.1">999</text>
<text transform="translate(409.40,463.00) scale(0.23805,0.25)" font-size="44.00" fill="#000" font-weight="bold" stroke="#000" stroke-width="1.1">Wind</text>
<text transform="translate(503.80,463.00) scale(0.25075,0.25)" font-size="44.00" fill="#000" text-anchor="end" font-weight="bold" stroke="#000" stroke-width="1.1">km/h</text>
<text transform="translate(409.40,477.50) scale(0.22250,0.25)" font-size="44.00" fill="#111">01.11.&#160;&#160;00:02</text>
<text transform="translate(503.80,477.50) scale(0.22250,0.25)" font-size="44.00" fill="#111" text-anchor="end">0.0</text>
<text transform="translate(409.40,492.00) scale(0.22250,0.25)" font-size="44.00" fill="#111">20.11.&#160;&#160;03:02</text>
<text transform="translate(503.80,492.00) scale(0.22250,0.25)" font-size="44.00" fill="#111" text-anchor="end">15.8</text>
<text transform="translate(409.40,506.40) scale(0.22250,0.25)" font-size="44.00" fill="#111">1315.7 km</text>
<text transform="translate(503.80,506.40) scale(0.22250,0.25)" font-size="44.00" fill="#111" text-anchor="end">2.0</text>
<text transform="translate(415.20,520.80) scale(0.22250,0.25)" font-size="44.00" fill="#111">0 Bft S</text>
<text transform="translate(503.80,520.80) scale(0.25750,0.25)" font-size="44.00" fill="#000" text-anchor="end" font-weight="bold" stroke="#000" stroke-width="1.1">0.0</text>
<text transform="translate(468.60,492.00) scale(0.22250,0.25)" font-size="44.00" fill="#111">SO</text>
<text transform="translate(517.00,463.00) scale(0.24263,0.25)" font-size="44.00" fill="#000" font-weight="bold" stroke="#000" stroke-width="1.1">Richtung</text>
<text transform="translate(517.00,477.50) scale(0.22250,0.25)" font-size="44.00" fill="#111">01.11.&#160;&#160;05:32</text>
<text transform="translate(611.00,477.50) scale(0.22250,0.25)" font-size="44.00" fill="#111" text-anchor="end">N</text>
<text transform="translate(517.00,492.00) scale(0.22250,0.25)" font-size="44.00" fill="#111">01.11.&#160;&#160;08:02</text>
<text transform="translate(611.00,492.00) scale(0.22250,0.25)" font-size="44.00" fill="#111" text-anchor="end">N-NW</text>
<text transform="translate(611.00,506.40) scale(0.22250,0.25)" font-size="44.00" fill="#111" text-anchor="end">S</text>
<text transform="translate(519.80,520.80) scale(0.22250,0.25)" font-size="44.00" fill="#111">180 °</text>
<text transform="translate(611.00,520.80) scale(0.23750,0.25)" font-size="44.00" fill="#000" text-anchor="end" font-weight="bold" stroke="#000" stroke-width="1.1">S</text>
<text transform="translate(625.00,463.00) scale(0.24542,0.25)" font-size="44.00" fill="#000" font-weight="bold" stroke="#000" stroke-width="1.1">Regen</text>
<text transform="translate(719.30,463.00) scale(0.24289,0.25)" font-size="44.00" fill="#000" text-anchor="end" font-weight="bold" stroke="#000" stroke-width="1.1">l/m²</text>
<text transform="translate(625.00,477.50) scale(0.22250,0.25)" font-size="44.00" fill="#111">Regentage: 9</text>
<text transform="translate(625.00,492.00) scale(0.22250,0.25)" font-size="44.00" fill="#111">26.11.&#160;&#160;14:02</text>
<text transform="translate(719.30,492.00) scale(0.22250,0.25)" font-size="44.00" fill="#111" text-anchor="end">4.8</text>
<text transform="translate(625.00,506.40) scale(0.22250,0.25)" font-size="44.00" fill="#111">Gesamt:</text>
<text transform="translate(719.30,506.40) scale(0.22250,0.25)" font-size="44.00" fill="#111" text-anchor="end">14.1</text>
<text transform="translate(627.60,520.80) scale(0.22250,0.25)" font-size="44.00" fill="#111">14.1 l/m²</text>
<text transform="translate(719.30,520.80) scale(0.25750,0.25)" font-size="44.00" fill="#000" text-anchor="end" font-weight="bold" stroke="#000" stroke-width="1.1">3.6</text>
<rect x="0.00" y="528.60" width="892.00" height="19.40" fill="#f0f0f0"/>
<line x1="0.00" y1="529.30" x2="892.00" y2="529.30" stroke="#a0a0a0" stroke-width="1"/>
<line x1="0.00" y1="530.30" x2="892.00" y2="530.30" stroke="#ffffff" stroke-width="1"/>
<line x1="1.00" y1="531.80" x2="403.50" y2="531.80" stroke="#a0a0a0" stroke-width="1.5"/>
<line x1="1.75" y1="531.80" x2="1.75" y2="548.00" stroke="#a0a0a0" stroke-width="1.5"/>
<line x1="403.00" y1="532.00" x2="403.00" y2="548.00" stroke="#ffffff" stroke-width="1"/>
<line x1="405.00" y1="531.80" x2="581.80" y2="531.80" stroke="#a0a0a0" stroke-width="1.5"/>
<line x1="405.75" y1="531.80" x2="405.75" y2="548.00" stroke="#a0a0a0" stroke-width="1.5"/>
<line x1="581.30" y1="532.00" x2="581.30" y2="548.00" stroke="#ffffff" stroke-width="1"/>
<line x1="583.30" y1="531.80" x2="739.80" y2="531.80" stroke="#a0a0a0" stroke-width="1.5"/>
<line x1="584.05" y1="531.80" x2="584.05" y2="548.00" stroke="#a0a0a0" stroke-width="1.5"/>
<line x1="739.30" y1="532.00" x2="739.30" y2="548.00" stroke="#ffffff" stroke-width="1"/>
<line x1="741.30" y1="531.80" x2="779.50" y2="531.80" stroke="#a0a0a0" stroke-width="1.5"/>
<line x1="742.05" y1="531.80" x2="742.05" y2="548.00" stroke="#a0a0a0" stroke-width="1.5"/>
<line x1="779.00" y1="532.00" x2="779.00" y2="548.00" stroke="#ffffff" stroke-width="1"/>
<line x1="781.00" y1="531.80" x2="829.00" y2="531.80" stroke="#a0a0a0" stroke-width="1.5"/>
<line x1="781.75" y1="531.80" x2="781.75" y2="548.00" stroke="#a0a0a0" stroke-width="1.5"/>
<line x1="828.50" y1="532.00" x2="828.50" y2="548.00" stroke="#ffffff" stroke-width="1"/>
<line x1="830.50" y1="531.80" x2="891.00" y2="531.80" stroke="#a0a0a0" stroke-width="1.5"/>
<line x1="831.25" y1="531.80" x2="831.25" y2="548.00" stroke="#a0a0a0" stroke-width="1.5"/>
<line x1="890.50" y1="532.00" x2="890.50" y2="548.00" stroke="#ffffff" stroke-width="1"/>
<text transform="translate(8.80,543.20) scale(0.21750,0.25)" font-size="44.00" fill="#111">(978x489+x)</text>
<text transform="translate(401.00,543.20) scale(0.21750,0.25)" font-size="44.00" fill="#111" text-anchor="end">X-CSV-File:&#160;&#160;18:32&#160;&#160;2018-12-02</text>
<text transform="translate(409.50,543.20) scale(0.21750,0.25)" font-size="44.00" fill="#111">November 2018</text>
<text transform="translate(585.40,543.20) scale(0.21750,0.25)" font-size="44.00" fill="#111">Datei: X-CSV-Datei - WMR918N</text>
<text transform="translate(805.20,543.20) scale(0.21750,0.25)" font-size="44.00" fill="#111" text-anchor="middle">18:29</text>
<text transform="translate(861.30,543.20) scale(0.21750,0.25)" font-size="44.00" fill="#111" text-anchor="middle">02.12.2018</text>
</svg>
</body></html>
